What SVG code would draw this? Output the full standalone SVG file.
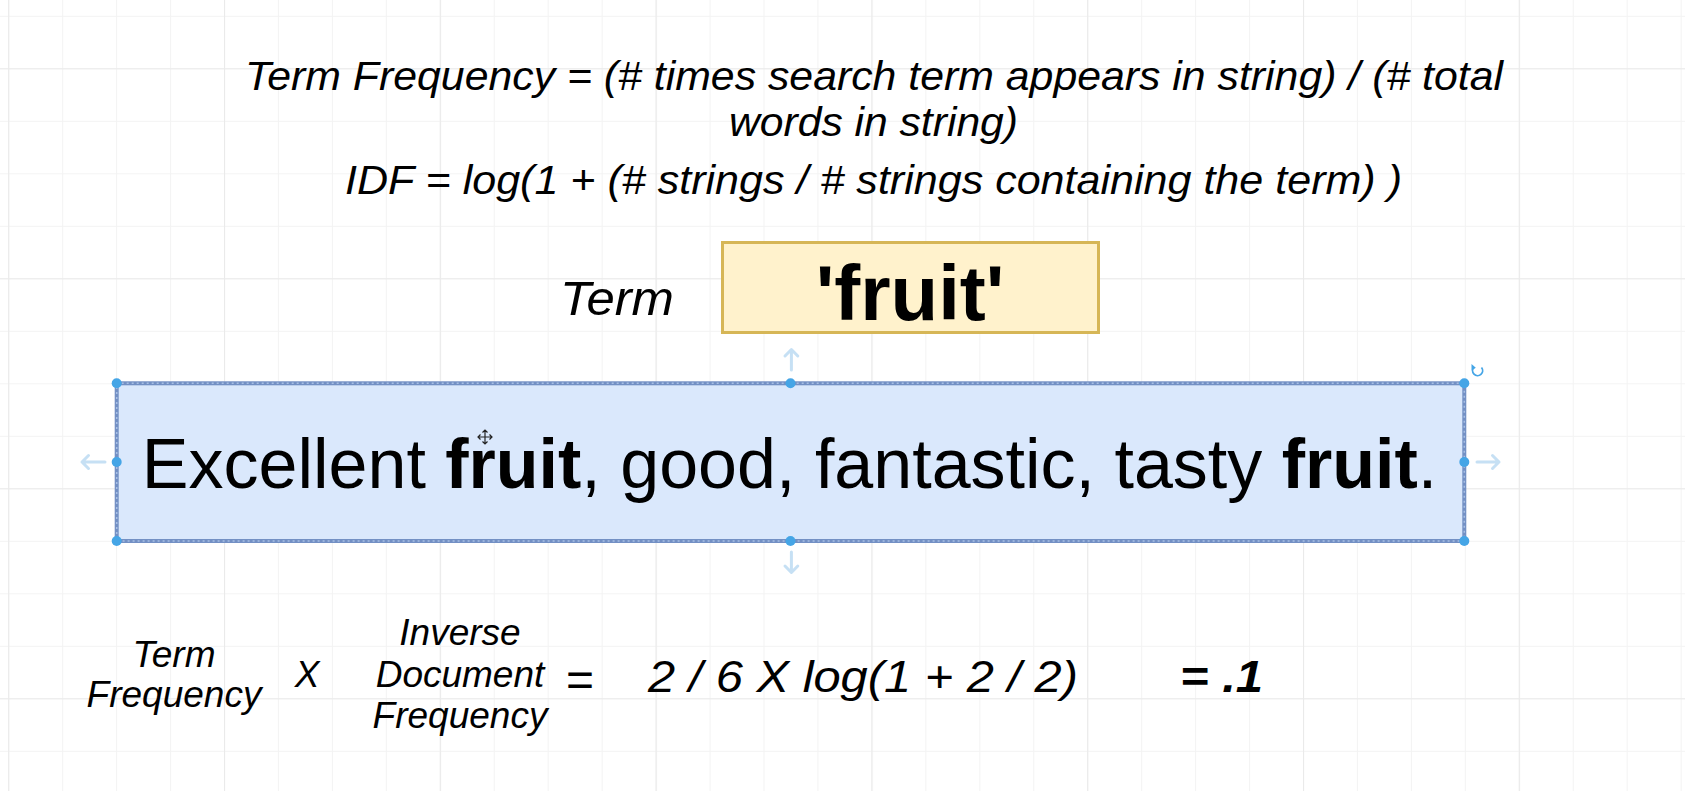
<svg xmlns="http://www.w3.org/2000/svg" width="1685" height="791" viewBox="0 0 1685 791">
<style>
.t{font-family:"Liberation Sans",Arial,Helvetica,sans-serif;fill:#000;}
.it{font-style:italic;}
.b{font-weight:bold;}
.handle{fill:#45a5e6;}
.hover{stroke:#c6e0f4;stroke-width:3;fill:none;stroke-linecap:round;stroke-linejoin:round;}
</style>
<defs>
<pattern id="minor" patternUnits="userSpaceOnUse" x="8.2" y="15.8" width="53.95" height="52.5">
<path d="M0.5 0V52.5M0 0.5H53.95" stroke="#f3f3f3" stroke-width="1" fill="none"/>
</pattern>
<pattern id="major" patternUnits="userSpaceOnUse" x="8.2" y="68.3" width="215.8" height="210">
<path d="M0.5 0V210M0 0.5H215.8" stroke="#eaeaea" stroke-width="1.2" fill="none"/>
</pattern>
</defs>
<rect width="1685" height="791" fill="#ffffff"/>
<rect width="1685" height="791" fill="url(#minor)"/>
<rect width="1685" height="791" fill="url(#major)"/>

<g id="formula-tf">
<text class="t it" x="245" y="90" font-size="41" textLength="1258" lengthAdjust="spacingAndGlyphs">Term Frequency = (# times search term appears in string) / (# total</text>
<text class="t it" x="729" y="136" font-size="41" textLength="289" lengthAdjust="spacingAndGlyphs">words in string)</text>
</g>
<g id="formula-idf">
<text class="t it" x="345" y="194" font-size="41" textLength="1057" lengthAdjust="spacingAndGlyphs">IDF = log(1 + (# strings / # strings containing the term) )</text>
</g>

<g id="term-label">
<text class="t it" x="560" y="315" font-size="49" textLength="114" lengthAdjust="spacingAndGlyphs">Term</text>
</g>

<g id="term-box">
<rect x="722.5" y="242.5" width="376" height="90" fill="#fff2cc" stroke="#d6b656" stroke-width="3"/>
<text class="t b" x="910" y="320" font-size="78" text-anchor="middle">'fruit'</text>
</g>

<g id="sentence-box">
<rect x="116.7" y="383.3" width="1347.6" height="157.7" fill="#dae8fc" stroke="#7390c4" stroke-width="4"/>
<rect x="116.7" y="383.3" width="1347.6" height="157.7" fill="none" stroke="#a8bfe4" stroke-width="1.5" stroke-dasharray="2 3"/>
<text class="t" x="141.8" y="488" font-size="70">Excellent <tspan class="b">fruit</tspan>, good, fantastic, tasty <tspan class="b">fruit</tspan>.</text>
</g>

<g id="selection">
<circle class="handle" cx="116.7" cy="383.3" r="5"/>
<circle class="handle" cx="790.5" cy="383.3" r="5"/>
<circle class="handle" cx="1464.3" cy="383.3" r="5"/>
<circle class="handle" cx="116.7" cy="462" r="5"/>
<circle class="handle" cx="1464.3" cy="462" r="5"/>
<circle class="handle" cx="116.7" cy="541" r="5"/>
<circle class="handle" cx="790.5" cy="541" r="5"/>
<circle class="handle" cx="1464.3" cy="541" r="5"/>
<path class="hover" d="M791.4 370V350M785 356L791.4 349.5L797.8 356"/>
<path class="hover" d="M791.4 552V572M785 566L791.4 572.5L797.8 566"/>
<path class="hover" d="M105 462H82M88.5 455.5L82 462L88.5 468.5"/>
<path class="hover" d="M1477 462H1499M1492.5 455.5L1499 462L1492.5 468.5"/>
<path d="M1481.5 367.5A5 5 0 1 1 1474 367.2" fill="none" stroke="#45a5e6" stroke-width="1.8"/>
<path d="M1471.5 364L1475.8 367.8L1471.5 370.5Z" fill="#45a5e6"/>
<path d="M485 430V444M478 437H492M482.5 432.5L485 430L487.5 432.5M482.5 441.5L485 444L487.5 441.5M480.5 434.5L478 437L480.5 439.5M489.5 434.5L492 437L489.5 439.5" fill="none" stroke="#222" stroke-width="1.2"/>
</g>

<g id="connectors"></g>

<g id="tf-label">
<text class="t it" x="174" y="667" font-size="37" text-anchor="middle">Term</text>
<text class="t it" x="174" y="707" font-size="37" text-anchor="middle">Frequency</text>
</g>
<g id="times-sign">
<text class="t it" x="307" y="687" font-size="37" text-anchor="middle">X</text>
</g>
<g id="idf-label">
<text class="t it" x="460" y="645" font-size="37" text-anchor="middle">Inverse</text>
<text class="t it" x="460" y="687" font-size="37" text-anchor="middle">Document</text>
<text class="t it" x="460" y="728" font-size="37" text-anchor="middle">Frequency</text>
</g>
<g id="equals-sign">
<text class="t" x="566" y="696" font-size="48">=</text>
</g>
<g id="calculation">
<text class="t it" x="648" y="692" font-size="44" textLength="430" lengthAdjust="spacingAndGlyphs">2 / 6 X log(1 + 2 / 2)</text>
</g>
<g id="result">
<text class="t it b" x="1180" y="692" font-size="44" textLength="83" lengthAdjust="spacingAndGlyphs">= .1</text>
</g>
</svg>
